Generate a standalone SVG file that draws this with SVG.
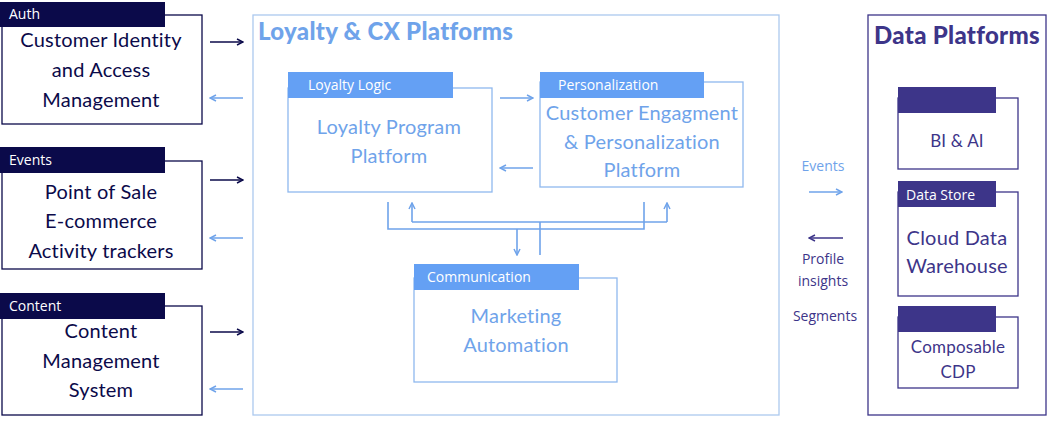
<svg xmlns="http://www.w3.org/2000/svg" width="1055" height="423" viewBox="0 0 1055 423">
<defs>
<style>
.bg{fill:#ffffff}
.navybox{fill:#ffffff;stroke:#0b0a4a;stroke-width:1.3}
.navylab{fill:#0b0a4a}
.bluebox{fill:#ffffff;stroke:#8fb8ee;stroke-width:1.3}
.bluelab{fill:#64a0f4}
.purpbox{fill:#ffffff;stroke:#3d3589;stroke-width:1.3}
.purplab{fill:#3d3589}
.cont-blue{fill:none;stroke:#acc9ef;stroke-width:1.3}
.cont-purp{fill:none;stroke:#3d3589;stroke-width:1.3}
.lab{font-family:"Open Sans","Noto Sans",sans-serif;font-size:14px;fill:#ffffff}
.main{font-family:Lato,"Liberation Sans",sans-serif;font-size:20px;letter-spacing:0.2px;text-anchor:middle}
.tnavy{fill:#0b0a4a}
.tblue{fill:#6fa3ea}
.tpurp{fill:#3d3589}
.title{font-family:Lato,"Liberation Sans",sans-serif;font-weight:900;font-size:24px;letter-spacing:0.3px}
.mid{font-family:"Open Sans","Noto Sans",sans-serif;font-size:14px;text-anchor:middle}
.cn{stroke:#0b0a4a;stroke-width:1.6;fill:none}
.cb{stroke:#6fa3ea;stroke-width:1.6;fill:none}
.cp{stroke:#3d3589;stroke-width:1.6;fill:none}
</style>
<marker id="aN" markerWidth="8" markerHeight="8" refX="7" refY="4" orient="auto" markerUnits="userSpaceOnUse"><path d="M1,1 L7,4 L1,7" fill="none" stroke="#0b0a4a" stroke-width="1.5"/></marker>
<marker id="aB" markerWidth="8" markerHeight="8" refX="7" refY="4" orient="auto" markerUnits="userSpaceOnUse"><path d="M1,1 L7,4 L1,7" fill="none" stroke="#6fa3ea" stroke-width="1.5"/></marker>
<marker id="aP" markerWidth="8" markerHeight="8" refX="7" refY="4" orient="auto" markerUnits="userSpaceOnUse"><path d="M1,1 L7,4 L1,7" fill="none" stroke="#3d3589" stroke-width="1.5"/></marker>
</defs>
<rect class="bg" x="0" y="0" width="1055" height="423"/>

<g id="loyalty-cx-platforms">
<rect class="cont-blue" x="253" y="15" width="526" height="400"/>
<text class="title tblue" x="258" y="40">Loyalty &amp; CX Platforms</text>
</g>

<g id="data-platforms">
<rect class="cont-purp" x="868" y="15" width="178" height="400"/>
<text class="title tpurp" x="957" y="44" text-anchor="middle">Data Platforms</text>
</g>

<g id="auth">
<rect class="navybox" x="2" y="15" width="200" height="109"/>
<rect class="navylab" x="0" y="2" width="165" height="25"/>
<text class="lab" x="9" y="19">Auth</text>
<text class="main tnavy" x="101" y="47">Customer Identity</text>
<text class="main tnavy" x="101" y="77">and Access</text>
<text class="main tnavy" x="101" y="107">Management</text>
</g>

<g id="events">
<rect class="navybox" x="2" y="161" width="200" height="108"/>
<rect class="navylab" x="0" y="147" width="165" height="26"/>
<text class="lab" x="9" y="165">Events</text>
<text class="main tnavy" x="101" y="199">Point of Sale</text>
<text class="main tnavy" x="101" y="228">E-commerce</text>
<text class="main tnavy" x="101" y="258">Activity trackers</text>
</g>

<g id="content">
<rect class="navybox" x="2" y="306" width="200" height="109"/>
<rect class="navylab" x="0" y="293" width="165" height="26"/>
<text class="lab" x="9" y="311">Content</text>
<text class="main tnavy" x="101" y="338">Content</text>
<text class="main tnavy" x="101" y="368">Management</text>
<text class="main tnavy" x="101" y="397">System</text>
</g>

<g id="loyalty-logic">
<rect class="bluebox" x="288" y="88" width="204" height="104"/>
<rect class="bluelab" x="288" y="72" width="165" height="26"/>
<text class="lab" x="308" y="90">Loyalty Logic</text>
<text class="main tblue" x="389" y="134">Loyalty Program</text>
<text class="main tblue" x="389" y="163">Platform</text>
</g>

<g id="personalization">
<rect class="bluebox" x="540" y="82" width="203" height="105"/>
<rect class="bluelab" x="540" y="72" width="164" height="26"/>
<text class="lab" x="558" y="90">Personalization</text>
<text class="main tblue" x="642" y="120">Customer Engagment</text>
<text class="main tblue" x="642" y="149">&amp; Personalization</text>
<text class="main tblue" x="642" y="177">Platform</text>
</g>

<g id="communication">
<rect class="bluebox" x="414" y="278" width="203" height="104"/>
<rect class="bluelab" x="414" y="264" width="165" height="26"/>
<text class="lab" x="427" y="282">Communication</text>
<text class="main tblue" x="516" y="323">Marketing</text>
<text class="main tblue" x="516" y="352">Automation</text>
</g>

<g id="bi-ai">
<rect class="purpbox" x="898" y="98" width="120" height="71"/>
<rect class="purplab" x="898" y="87" width="98" height="26"/>
<text class="main tpurp" x="957" y="147" style="font-size:17px">BI &amp; AI</text>
</g>

<g id="data-store">
<rect class="purpbox" x="898" y="192" width="120" height="104"/>
<rect class="purplab" x="898" y="181" width="98" height="26"/>
<text class="lab" x="906" y="200">Data Store</text>
<text class="main tpurp" x="957" y="245">Cloud Data</text>
<text class="main tpurp" x="957" y="273">Warehouse</text>
</g>

<g id="composable-cdp">
<rect class="purpbox" x="898" y="317" width="120" height="71"/>
<rect class="purplab" x="898" y="306" width="98" height="26"/>
<text class="main tpurp" x="958" y="353" style="font-size:17px">Composable</text>
<text class="main tpurp" x="958" y="378" style="font-size:17px">CDP</text>
</g>

<g id="connectors">
<line class="cn" x1="210" y1="42" x2="243" y2="42" marker-end="url(#aN)"/>
<line class="cb" x1="243" y1="98" x2="210" y2="98" marker-end="url(#aB)"/>
<line class="cn" x1="210" y1="180" x2="243" y2="180" marker-end="url(#aN)"/>
<line class="cb" x1="243" y1="238" x2="210" y2="238" marker-end="url(#aB)"/>
<line class="cn" x1="210" y1="332" x2="243" y2="332" marker-end="url(#aN)"/>
<line class="cb" x1="243" y1="389" x2="210" y2="389" marker-end="url(#aB)"/>
<line class="cb" x1="500" y1="98" x2="533" y2="98" marker-end="url(#aB)"/>
<line class="cb" x1="533" y1="168" x2="500" y2="168" marker-end="url(#aB)"/>
<path class="cb" d="M388,202 V229 H644 V202"/>
<line class="cb" x1="517" y1="229" x2="517" y2="255" marker-end="url(#aB)"/>
<path class="cb" d="M540,255 V222"/>
<path class="cb" d="M412,222 H667"/>
<line class="cb" x1="412" y1="222" x2="412" y2="203" marker-end="url(#aB)"/>
<line class="cb" x1="667" y1="222" x2="667" y2="203" marker-end="url(#aB)"/>
<text class="mid tblue" x="823" y="171">Events</text>
<line class="cb" x1="809" y1="192" x2="842" y2="192" marker-end="url(#aB)"/>
<line class="cp" x1="843" y1="238" x2="809" y2="238" marker-end="url(#aP)"/>
<text class="mid tpurp" x="823" y="264">Profile</text>
<text class="mid tpurp" x="823" y="286">insights</text>
<text class="mid tpurp" x="825" y="321">Segments</text>
</g>
</svg>
